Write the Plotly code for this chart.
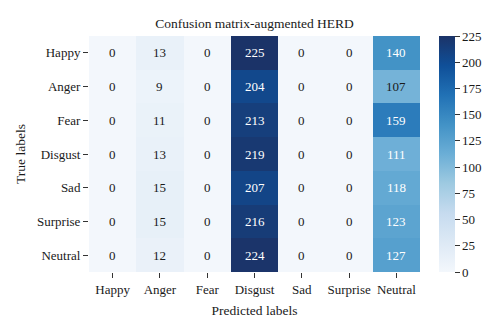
import plotly.graph_objects as go

labels = ["Happy", "Anger", "Fear", "Disgust", "Sad", "Surprise", "Neutral"]
matrix = [
    [0, 13, 0, 225, 0, 0, 140],
    [0, 9, 0, 204, 0, 0, 107],
    [0, 11, 0, 213, 0, 0, 159],
    [0, 13, 0, 219, 0, 0, 111],
    [0, 15, 0, 207, 0, 0, 118],
    [0, 15, 0, 216, 0, 0, 123],
    [0, 12, 0, 224, 0, 0, 127],
]
cbar_ticks = [0, 25, 50, 75, 100, 125, 150, 175, 200, 225]

blues = [
    [0.0, "#f3f7fc"], [0.125, "#dde9f5"], [0.25, "#c6dbef"], [0.375, "#9ecae1"],
    [0.5, "#6baed6"], [0.625, "#4292c6"], [0.75, "#2171b5"], [0.875, "#0f4f98"],
    [1.0, "#1b3368"],
]
FONT = "Liberation Serif, Times New Roman, Times, serif"
TXT = "#1a1a1a"

fig = go.Figure(go.Heatmap(
    z=matrix, x=labels, y=labels, zmin=0, zmax=225, colorscale=blues,
    xgap=0, ygap=0,
    colorbar=dict(
        x=1.057, xanchor="left", xpad=0, y=0.5, yanchor="middle", len=1.0, lenmode="fraction",
        ypad=0, thickness=16, outlinewidth=0, tickvals=cbar_ticks, ticks="outside",
        ticklen=5, tickwidth=1, tickcolor="#333",
        tickfont=dict(family=FONT, size=13, color=TXT),
    ),
))

for i, row in enumerate(matrix):
    for j, v in enumerate(row):
        fig.add_annotation(
            x=labels[j], y=labels[i], text=str(v), showarrow=False,
            font=dict(family=FONT, size=13, color="white" if v >= 110 else TXT),
        )

fig.update_layout(
    width=500, height=333,
    margin=dict(l=89, r=80, t=36, b=61, autoexpand=False),
    paper_bgcolor="white", plot_bgcolor="white",
    title=dict(text="Confusion matrix-augmented HERD", x=0.5, xref="paper", xanchor="center",
               y=0.93, yanchor="middle", font=dict(family=FONT, size=13.5, color=TXT)),
    font=dict(family=FONT, size=13, color=TXT),
)
fig.update_xaxes(
    title=dict(text="Predicted labels", font=dict(family=FONT, size=13.5, color=TXT), standoff=9),
    ticks="outside", ticklen=5, tickwidth=1, tickcolor="#333",
    tickfont=dict(family=FONT, size=13, color=TXT), showgrid=False, zeroline=False,
    showline=False,
)
fig.update_yaxes(
    title=dict(text="True labels", font=dict(family=FONT, size=13.5, color=TXT), standoff=8),
    autorange="reversed", ticks="outside", ticklen=5, tickwidth=1, tickcolor="#333",
    tickfont=dict(family=FONT, size=13, color=TXT), showgrid=False, zeroline=False,
    showline=False,
)

fig.write_html("out.html")
